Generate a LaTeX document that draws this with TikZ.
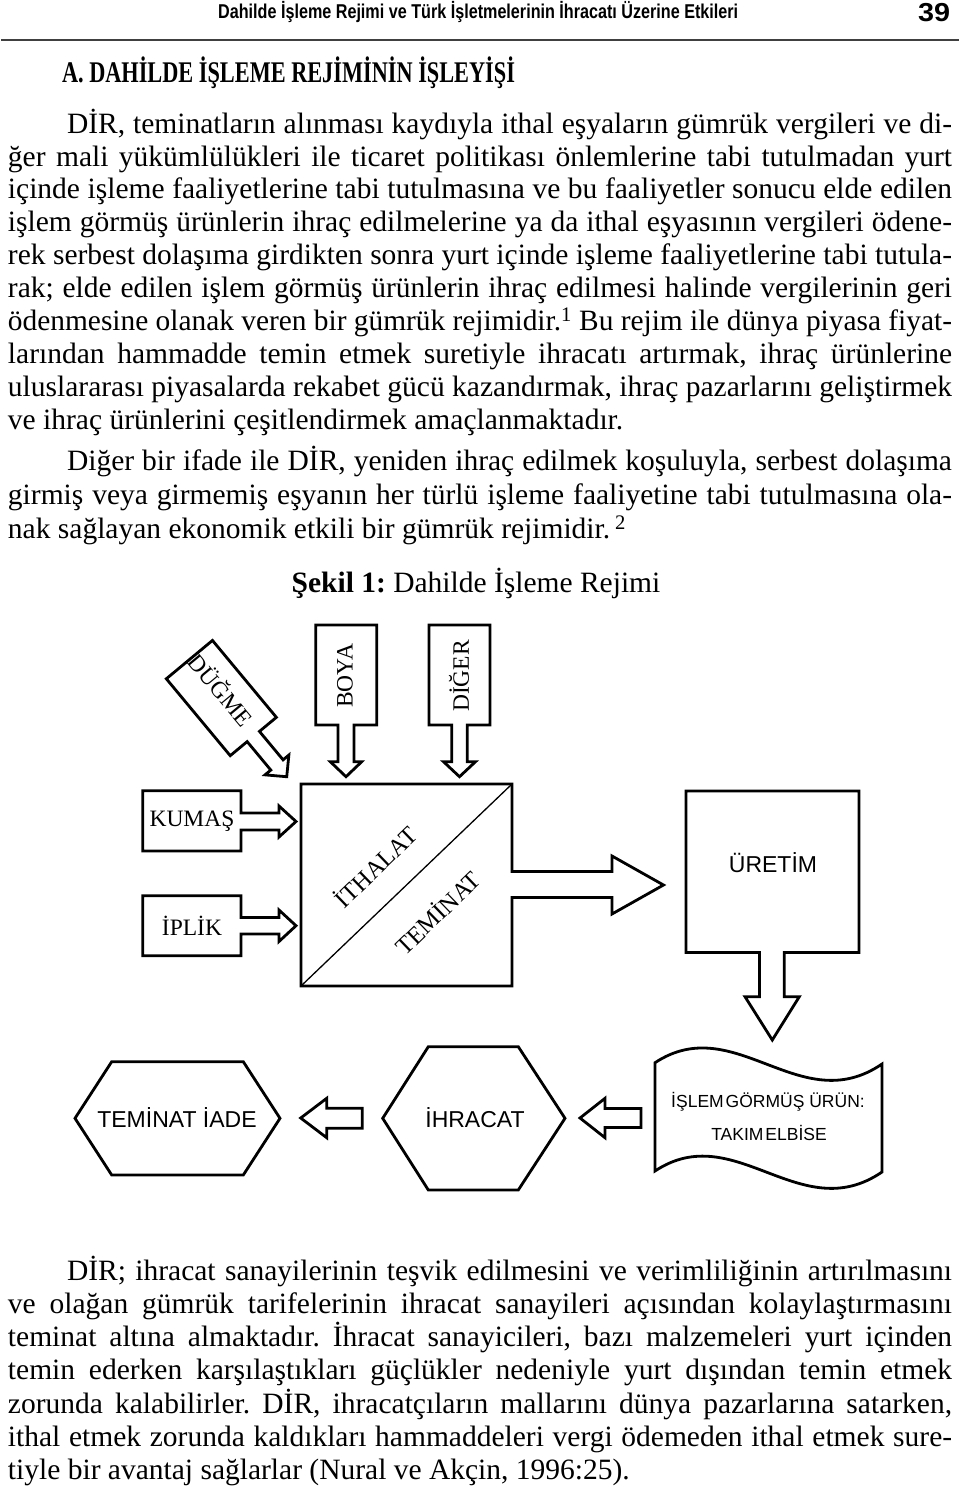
\documentclass[tikz,border=0pt]{standalone}
\usepackage{fontspec}
\setmainfont{Liberation Serif}
\setsansfont{Liberation Sans}
\usepackage{graphicx}
\frenchspacing
\newsavebox\lbox
\newcommand\fitline[2]{\sbox\lbox{#2}\ifdim\wd\lbox>#1\relax\resizebox{#1}{\height}{\usebox\lbox}\else\makebox[#1][s]{#2}\fi}
\tikzset{
  body/.style={anchor=mid west, inner sep=0pt, outer sep=0pt, font=\fontsize{29.5pt}{33pt}\selectfont},
  shapeline/.style={draw=black, line width=2.8pt, line join=miter},
  slabel/.style={font=\fontsize{23.5pt}{26pt}\selectfont, inner sep=0pt},
  tlabel/.style={font=\fontsize{24.5pt}{26pt}\selectfont, inner sep=0pt},
  alabel/.style={font=\sffamily\fontsize{23pt}{26pt}\selectfont, inner sep=0pt},
  wlabel/.style={font=\sffamily\fontsize{17.5pt}{20pt}\selectfont, inner sep=0pt},
}
\newcommand\jl[5]{\node[body] (#1) at (#2,#3) {\fitline{#4}{#5}};}
\newcommand\nl[4]{\node[body] (#1) at (#2,#3) {#4};}
\begin{document}
\begin{tikzpicture}[x=1pt,y=-1pt]
\fill[white] (0,0) rectangle (960,1499);
\path[use as bounding box] (0,0) rectangle (960,1499);

% header
\node[anchor=mid west, inner sep=0pt, font=\sffamily\bfseries\fontsize{20pt}{22pt}\selectfont] (hdr) at (218,16)
  {\resizebox{520pt}{\height}{Dahilde İşleme Rejimi ve Türk İşletmelerinin İhracatı Üzerine Etkileri}};
\node[anchor=mid west, inner sep=0pt, font=\sffamily\bfseries\fontsize{26pt}{28pt}\selectfont] (pg) at (918,19)
  {\resizebox{32pt}{\height}{39}};
\draw[line width=2.5pt, black!75] (1,40) -- (959,40);

% heading
\node[body, font=\bfseries\fontsize{30pt}{33pt}\selectfont] (head) at (62,80)
  {\resizebox{453pt}{\height}{A. DAHİLDE İŞLEME REJİMİNİN İŞLEYİŞİ}};

% paragraph 1
\jl{a1}{67}{131}{885pt}{DİR, teminatların alınması kaydıyla ithal eşyaların gümrük vergileri ve di-}
\jl{a2}{8}{164}{944pt}{ğer mali yükümlülükleri ile ticaret politikası önlemlerine tabi tutulmadan yurt}
\jl{a3}{8}{196}{944pt}{içinde işleme faaliyetlerine tabi tutulmasına ve bu faaliyetler sonucu elde edilen}
\jl{a4}{8}{229}{944pt}{işlem görmüş ürünlerin ihraç edilmelerine ya da ithal eşyasının vergileri ödene-}
\jl{a5}{8}{262}{944pt}{rek serbest dolaşıma girdikten sonra yurt içinde işleme faaliyetlerine tabi tutula-}
\jl{a6}{8}{295}{944pt}{rak; elde edilen işlem görmüş ürünlerin ihraç edilmesi halinde vergilerinin geri}
\jl{a7}{8}{328}{944pt}{ödenmesine olanak veren bir gümrük rejimidir.\textsuperscript{1} Bu rejim ile dünya piyasa fiyat-}
\jl{a8}{8}{361}{944pt}{larından hammadde temin etmek suretiyle ihracatı artırmak, ihraç ürünlerine}
\jl{a9}{8}{394}{944pt}{uluslararası piyasalarda rekabet gücü kazandırmak, ihraç pazarlarını geliştirmek}
\nl{a10}{8}{427}{ve ihraç ürünlerini çeşitlendirmek amaçlanmaktadır.}

% paragraph 2
\jl{b1}{67}{468}{885pt}{Diğer bir ifade ile DİR, yeniden ihraç edilmek koşuluyla, serbest dolaşıma}
\jl{b2}{8}{502}{944pt}{girmiş veya girmemiş eşyanın her türlü işleme faaliyetine tabi tutulmasına ola-}
\nl{b3}{8}{536}{nak sağlayan ekonomik etkili bir gümrük rejimidir.\,\textsuperscript{2}}

% caption
\node[inner sep=0pt, font=\fontsize{29.5pt}{33pt}\selectfont] (cap) at (476,583) {\textbf{Şekil 1:} Dahilde İşleme Rejimi};

% ---------- diagram ----------
% DUGME (rotated box with arrow)
\draw[shapeline] (276.37,717.33) -- (212.47,640.43) -- (166.33,678.77) -- (230.23,755.67)
  -- (247.15,741.61) -- (270.79,770.06) -- (265.02,774.85) -- (286.72,776.72)
  -- (288.86,755.05) -- (283.09,759.84) -- (259.45,731.39) -- cycle;
\node[slabel, rotate=-50.3] (dugme) at (222,689) {DÜĞME};

% BOYA
\draw[shapeline] (315.7,625) -- (376.7,625) -- (376.7,725) -- (354,725) -- (354,761.7)
  -- (361.7,761.7) -- (346,776.7) -- (330.3,761.7) -- (338,761.7) -- (338,725) -- (315.7,725) -- cycle;
\node[slabel, rotate=90] (boya) at (345,676) {BOYA};

% DIGER
\draw[shapeline] (429,625) -- (490,625) -- (490,725) -- (467.3,725) -- (467.3,761.7)
  -- (475.5,761.7) -- (459.5,776.7) -- (443.5,761.7) -- (451.7,761.7) -- (451.7,725) -- (429,725) -- cycle;
\node[slabel, rotate=90] (diger) at (459,676) {DİĞER};

% KUMAS
\draw[shapeline] (142.7,790.7) -- (241,790.7) -- (241,813) -- (279,813) -- (279,806)
  -- (296,821.5) -- (279,837) -- (279,830) -- (241,830) -- (241,851) -- (142.7,851) -- cycle;
\node[slabel] (kumas) at (192,821) {KUMAŞ};

% IPLIK
\draw[shapeline] (142.7,895.7) -- (241,895.7) -- (241,917.5) -- (279,917.5) -- (279,910)
  -- (296,925.7) -- (279,941.5) -- (279,934) -- (241,934) -- (241,955.7) -- (142.7,955.7) -- cycle;
\node[slabel] (iplik) at (192,926) {İPLİK};

% big square with arrow to URETIM
\draw[shapeline] (301,784) -- (512,784) -- (512,871.5) -- (612,871.5) -- (612,856)
  -- (663.5,885) -- (612,914) -- (612,897.5) -- (512,897.5) -- (512,986) -- (301,986) -- cycle;
\draw[line width=1.3pt] (301,986) -- (512,784);
\node[tlabel, rotate=44] (ithalat) at (375,866) {İTHALAT};
\node[tlabel, rotate=44] (teminat) at (437,912) {TEMİNAT};

% URETIM with arrow down
\draw[shapeline] (686,791) -- (859,791) -- (859,952.5) -- (784.3,952.5) -- (784.3,996.7)
  -- (799.3,996.7) -- (772.3,1040) -- (745,996.7) -- (759.5,996.7) -- (759.5,952.5) -- (686,952.5) -- cycle;
\node[alabel] (uretim) at (773,863) {ÜRETİM};

% wave document
\draw[shapeline] (655,1062.7) .. controls (735,1010) and (800,1120) .. (882,1064)
  -- (882,1172) .. controls (800,1228) and (735,1118) .. (655,1171) -- cycle;
\node[wlabel] (urun1) at (768,1102) {İŞLEM\hspace{2pt}GÖRMÜŞ ÜRÜN:};
\node[wlabel] (urun2) at (769,1133) {TAKIM\hspace{2pt}ELBİSE};

% arrow wave -> IHRACAT
\draw[shapeline] (641,1108.5) -- (605,1108.5) -- (605,1098.3) -- (580,1118) -- (605,1137.7)
  -- (605,1127.5) -- (641,1127.5) -- cycle;

% IHRACAT hexagon
\draw[shapeline] (382.7,1118.3) -- (428.3,1046.7) -- (518.3,1046.7) -- (565,1118.3)
  -- (518.3,1190) -- (428.3,1190) -- cycle;
\node[alabel] (ihracat) at (475,1118) {İHRACAT};

% arrow IHRACAT -> TEMINAT IADE
\draw[shapeline] (362.3,1108.3) -- (326.7,1108.3) -- (326.7,1098.3) -- (300.7,1118) -- (326.7,1137.7)
  -- (326.7,1128.3) -- (362.3,1128.3) -- cycle;

% TEMINAT IADE hexagon
\draw[shapeline] (75,1118.3) -- (111.7,1061.7) -- (243.3,1061.7) -- (280,1118.3)
  -- (243.3,1175) -- (111.7,1175) -- cycle;
\node[alabel] (iade) at (177,1118) {TEMİNAT İADE};

% paragraph 3
\jl{c1}{67}{1278}{885pt}{DİR; ihracat sanayilerinin teşvik edilmesini ve verimliliğinin artırılmasını}
\jl{c2}{8}{1311}{944pt}{ve olağan gümrük tarifelerinin ihracat sanayileri açısından kolaylaştırmasını}
\jl{c3}{8}{1344}{944pt}{teminat altına almaktadır. İhracat sanayicileri, bazı malzemeleri yurt içinden}
\jl{c4}{8}{1377}{944pt}{temin ederken karşılaştıkları güçlükler nedeniyle yurt dışından temin etmek}
\jl{c5}{8}{1411}{944pt}{zorunda kalabilirler. DİR, ihracatçıların mallarını dünya pazarlarına satarken,}
\jl{c6}{8}{1444}{944pt}{ithal etmek zorunda kaldıkları hammaddeleri vergi ödemeden ithal etmek sure-}
\nl{c7}{8}{1477}{tiyle bir avantaj sağlarlar (Nural ve Akçin, 1996:25).}
\end{tikzpicture}
\end{document}
